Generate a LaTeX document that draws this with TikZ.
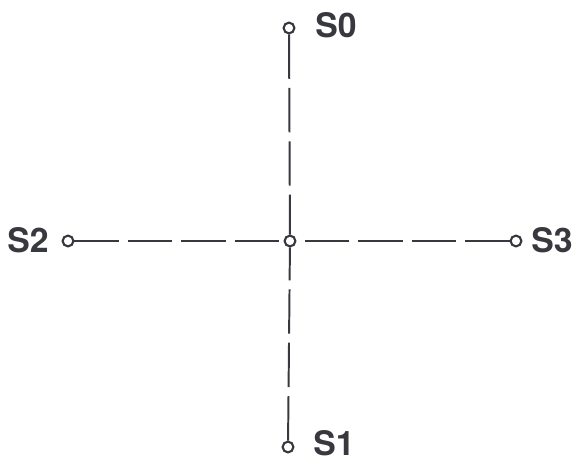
\documentclass[tikz,border=0pt]{standalone}
\usepackage{fontspec}
\setmainfont{TeX Gyre Heros}
\usepackage{xcolor}
\usepackage{tikz}
\usetikzlibrary{positioning}

\definecolor{ink}{HTML}{38383F}

\begin{document}
\begin{tikzpicture}[
    x=0.025cm, y=-0.025cm,
    font=\fontsize{24}{29}\selectfont\bfseries,
    terminal/.style={
        circle,
        draw=ink,
        line width=1.5pt,
        inner sep=0pt,
        minimum size=0.27cm,
        fill=white
    },
    tag/.style={
        inner sep=0pt,
        text=ink
    },
    wire/.style={
        draw=ink,
        line width=1.4pt,
        dash pattern=on 1.11cm off 0.225cm
    }
]
\useasboundingbox (0,0) rectangle (575,470);

\node[terminal] (hub) at (290,241) {};

\node[terminal] (s0) at (289,28) {};
\node[terminal] (s1) at (288,447) {};
\node[terminal] (s2) at (68,241) {};
\node[terminal] (s3) at (516,241) {};

\node[tag, anchor=west] (l0) at (315,25) {S0};
\node[tag, anchor=west] (l1) at (313,443) {S1};
\node[tag, anchor=east] (l2) at (49,240) {S2};
\node[tag, anchor=west] (l3) at (531,240) {S3};

\draw[wire] (s0) -- (hub);
\draw[wire] (s1) -- (hub);
\draw[wire] (s2) -- (hub);
\draw[wire] (s3) -- (hub);

\end{tikzpicture}
\end{document}
